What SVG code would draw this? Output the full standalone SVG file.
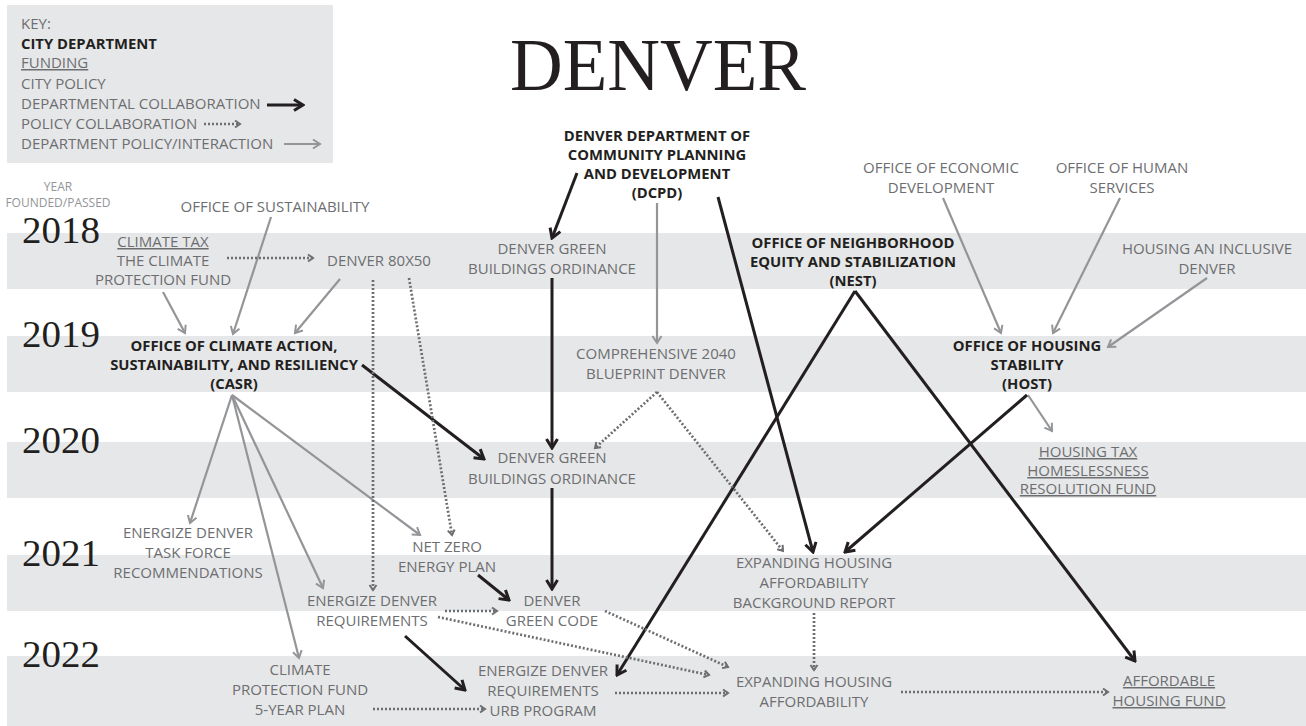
<svg xmlns="http://www.w3.org/2000/svg" width="1306" height="726" viewBox="0 0 1306 726">
<style>
.bg{fill:#ffffff}
.band{fill:#e6e7e8}
.t{font-family:"Open Sans","Liberation Sans",sans-serif;font-size:15px;fill:#6d6e71;text-anchor:middle}
.l{text-anchor:start}
.b{font-weight:bold;fill:#231f20;font-size:14.8px}
.u{text-decoration:underline}
.yr{font-family:"Liberation Serif","DejaVu Serif",serif;font-size:37px;fill:#231f20}
.ttl{font-family:"Liberation Serif","DejaVu Serif",serif;font-size:73px;fill:#231f20;text-anchor:middle}
.sm{font-family:"Open Sans","Liberation Sans",sans-serif;font-size:12px;fill:#939598;text-anchor:middle}
.blk{stroke:#231f20;stroke-width:3;fill:none;marker-end:url(#ab)}
.dot{stroke:#6d6e71;stroke-width:2.7;stroke-dasharray:2 2;fill:none;marker-end:url(#ad)}
.gry{stroke:#939598;stroke-width:2.2;fill:none;marker-end:url(#ag)}
</style>
<defs>
<marker id="ab" viewBox="0 0 14 14" markerUnits="userSpaceOnUse" markerWidth="14" markerHeight="14" refX="12" refY="7" orient="auto">
<path d="M3,1.5 L12,7 L3,12.5" fill="none" stroke="#231f20" stroke-width="3"/>
</marker>
<marker id="ad" viewBox="0 0 10 10" markerUnits="userSpaceOnUse" markerWidth="10" markerHeight="10" refX="8" refY="5" orient="auto">
<path d="M3,1.5 L8,5 L3,8.5" fill="none" stroke="#6d6e71" stroke-width="2"/>
</marker>
<marker id="ag" viewBox="0 0 12 12" markerUnits="userSpaceOnUse" markerWidth="12" markerHeight="12" refX="10" refY="6" orient="auto">
<path d="M3,1.5 L10,6 L3,10.5" fill="none" stroke="#939598" stroke-width="2"/>
</marker>
</defs>
<rect class="bg" x="0" y="0" width="1306" height="726"/>
<g id="bands">
<rect class="band" x="7" y="233" width="1299" height="56"/>
<rect class="band" x="7" y="336" width="1299" height="56"/>
<rect class="band" x="7" y="442" width="1299" height="56"/>
<rect class="band" x="7" y="555" width="1299" height="56"/>
<rect class="band" x="7" y="656" width="1299" height="70"/>
</g>
<g id="key">
<rect class="band" x="7" y="5" width="326" height="158"/>
<text class="t l" x="21" y="29">KEY:</text>
<text class="t l b" x="21" y="49">CITY DEPARTMENT</text>
<text class="t l u" x="21" y="68">FUNDING</text>
<text class="t l" x="21" y="89">CITY POLICY</text>
<text class="t l" x="21" y="109">DEPARTMENTAL COLLABORATION</text>
<text class="t l" x="21" y="129">POLICY COLLABORATION</text>
<text class="t l" x="21" y="149">DEPARTMENT POLICY/INTERACTION</text>
<line class="blk" x1="267" y1="105" x2="303" y2="105"/>
<line class="dot" x1="204" y1="124" x2="240" y2="124"/>
<line class="gry" x1="284" y1="144" x2="320" y2="144"/>
</g>
<g id="title"><text class="ttl" x="658" y="90">DENVER</text></g>
<g id="years">
<text class="sm" x="58" y="191">YEAR</text>
<text class="sm" x="58" y="207">FOUNDED/PASSED</text>
<text class="yr" x="22" y="243" textLength="78" lengthAdjust="spacingAndGlyphs">2018</text>
<text class="yr" x="22" y="347" textLength="78" lengthAdjust="spacingAndGlyphs">2019</text>
<text class="yr" x="22" y="453" textLength="78" lengthAdjust="spacingAndGlyphs">2020</text>
<text class="yr" x="22" y="566" textLength="78" lengthAdjust="spacingAndGlyphs">2021</text>
<text class="yr" x="22" y="667" textLength="78" lengthAdjust="spacingAndGlyphs">2022</text>
</g>
<g id="connectors">
<line class="gry" x1="271" y1="217" x2="233" y2="334"/>
<line class="gry" x1="163" y1="292" x2="185" y2="333"/>
<line class="gry" x1="340" y1="279" x2="295" y2="333"/>
<line class="gry" x1="232" y1="395" x2="190" y2="523"/>
<line class="gry" x1="232" y1="395" x2="299" y2="658"/>
<line class="gry" x1="232" y1="395" x2="323" y2="588"/>
<line class="gry" x1="232" y1="395" x2="420" y2="535"/>
<line class="gry" x1="657" y1="203" x2="657" y2="343"/>
<line class="gry" x1="943" y1="198" x2="1001" y2="333"/>
<line class="gry" x1="1120" y1="198" x2="1053" y2="333"/>
<line class="gry" x1="1207" y1="278" x2="1108" y2="347"/>
<line class="gry" x1="1028" y1="395" x2="1052" y2="431"/>
<line class="blk" x1="577" y1="173" x2="552" y2="238"/>
<line class="blk" x1="552" y1="278" x2="552" y2="448"/>
<line class="blk" x1="362" y1="365" x2="484" y2="459"/>
<line class="blk" x1="552" y1="488" x2="552" y2="589"/>
<line class="blk" x1="478" y1="575" x2="509" y2="600"/>
<line class="blk" x1="405" y1="636" x2="465" y2="690"/>
<line class="blk" x1="718" y1="197" x2="813" y2="552"/>
<line class="blk" x1="855" y1="291" x2="617" y2="675"/>
<line class="blk" x1="855" y1="291" x2="1135" y2="661"/>
<line class="blk" x1="1027" y1="395" x2="845" y2="552"/>
<line class="dot" x1="227" y1="258" x2="313" y2="258"/>
<line class="dot" x1="373" y1="280" x2="373" y2="590"/>
<line class="dot" x1="409" y1="278" x2="452" y2="535"/>
<line class="dot" x1="657" y1="392" x2="595" y2="448"/>
<line class="dot" x1="657" y1="392" x2="783" y2="551"/>
<line class="dot" x1="445" y1="611" x2="497" y2="611"/>
<line class="dot" x1="438" y1="617" x2="709" y2="675"/>
<line class="dot" x1="605" y1="611" x2="728" y2="667"/>
<line class="dot" x1="814" y1="613" x2="814" y2="670"/>
<line class="dot" x1="615" y1="693" x2="728" y2="693"/>
<line class="dot" x1="373" y1="709" x2="485" y2="709"/>
<line class="dot" x1="901" y1="692" x2="1108" y2="692"/>
</g>
<g id="sust"><text class="t" x="275" y="212">OFFICE OF SUSTAINABILITY</text></g>
<g id="ctax"><text class="t"><tspan class="u" x="163" y="247">CLIMATE TAX</tspan><tspan x="163" y="266">THE CLIMATE</tspan><tspan x="163" y="285">PROTECTION FUND</tspan></text></g>
<g id="d8050"><text class="t" x="379" y="266">DENVER 80X50</text></g>
<g id="dgbo18"><text class="t"><tspan x="552" y="254">DENVER GREEN</tspan><tspan x="552" y="274">BUILDINGS ORDINANCE</tspan></text></g>
<g id="dcpd"><text class="t b"><tspan x="657" y="141">DENVER DEPARTMENT OF</tspan><tspan x="657" y="160">COMMUNITY PLANNING</tspan><tspan x="657" y="179">AND DEVELOPMENT</tspan><tspan x="657" y="198">(DCPD)</tspan></text></g>
<g id="nest"><text class="t b"><tspan x="853" y="248">OFFICE OF NEIGHBORHOOD</tspan><tspan x="853" y="267">EQUITY AND STABILIZATION</tspan><tspan x="853" y="286">(NEST)</tspan></text></g>
<g id="oed"><text class="t"><tspan x="941" y="173">OFFICE OF ECONOMIC</tspan><tspan x="941" y="193">DEVELOPMENT</tspan></text></g>
<g id="ohs"><text class="t"><tspan x="1122" y="173">OFFICE OF HUMAN</tspan><tspan x="1122" y="193">SERVICES</tspan></text></g>
<g id="haid"><text class="t"><tspan x="1207" y="254">HOUSING AN INCLUSIVE</tspan><tspan x="1207" y="274">DENVER</tspan></text></g>
<g id="casr"><text class="t b"><tspan x="234" y="351">OFFICE OF CLIMATE ACTION,</tspan><tspan x="234" y="370">SUSTAINABILITY, AND RESILIENCY</tspan><tspan x="234" y="389">(CASR)</tspan></text></g>
<g id="comp"><text class="t"><tspan x="656" y="359">COMPREHENSIVE 2040</tspan><tspan x="656" y="379">BLUEPRINT DENVER</tspan></text></g>
<g id="host"><text class="t b"><tspan x="1027" y="351">OFFICE OF HOUSING</tspan><tspan x="1027" y="370">STABILITY</tspan><tspan x="1027" y="389">(HOST)</tspan></text></g>
<g id="dgbo20"><text class="t"><tspan x="552" y="463">DENVER GREEN</tspan><tspan x="552" y="484">BUILDINGS ORDINANCE</tspan></text></g>
<g id="htax"><text class="t u"><tspan x="1088" y="457">HOUSING TAX</tspan><tspan x="1088" y="476">HOMESLESSNESS</tspan><tspan x="1088" y="494">RESOLUTION FUND</tspan></text></g>
<g id="edtf"><text class="t"><tspan x="188" y="538">ENERGIZE DENVER</tspan><tspan x="188" y="558">TASK FORCE</tspan><tspan x="188" y="578">RECOMMENDATIONS</tspan></text></g>
<g id="nz"><text class="t"><tspan x="447" y="552">NET ZERO</tspan><tspan x="447" y="572">ENERGY PLAN</tspan></text></g>
<g id="edr21"><text class="t"><tspan x="372" y="606">ENERGIZE DENVER</tspan><tspan x="372" y="626">REQUIREMENTS</tspan></text></g>
<g id="dgc"><text class="t"><tspan x="552" y="606">DENVER</tspan><tspan x="552" y="626">GREEN CODE</tspan></text></g>
<g id="ehab"><text class="t"><tspan x="814" y="568">EXPANDING HOUSING</tspan><tspan x="814" y="588">AFFORDABILITY</tspan><tspan x="814" y="608">BACKGROUND REPORT</tspan></text></g>
<g id="cpf5"><text class="t"><tspan x="300" y="675">CLIMATE</tspan><tspan x="300" y="695">PROTECTION FUND</tspan><tspan x="300" y="715">5-YEAR PLAN</tspan></text></g>
<g id="edr22"><text class="t"><tspan x="543" y="676">ENERGIZE DENVER</tspan><tspan x="543" y="696">REQUIREMENTS</tspan><tspan x="543" y="716">URB PROGRAM</tspan></text></g>
<g id="eha"><text class="t"><tspan x="814" y="687">EXPANDING HOUSING</tspan><tspan x="814" y="707">AFFORDABILITY</tspan></text></g>
<g id="ahf"><text class="t u"><tspan x="1169" y="686">AFFORDABLE</tspan><tspan x="1169" y="706">HOUSING FUND</tspan></text></g>
</svg>
